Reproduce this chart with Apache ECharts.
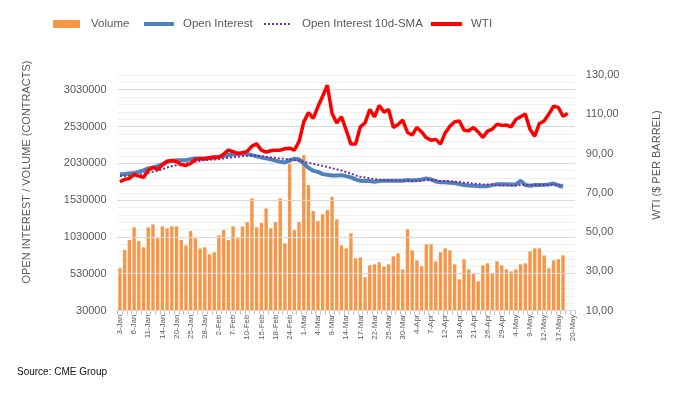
<!DOCTYPE html>
<html>
<head>
<meta charset="utf-8">
<script src="https://cdn.jsdelivr.net/npm/echarts@6/dist/echarts.min.js"></script>
<style>
html,body{margin:0;padding:0;background:#fff;}
#chart{width:674px;height:394px;}
</style>
</head>
<body>
<div id="chart"></div>
<script>
const categories = [
'3-Jan','4-Jan','5-Jan','6-Jan','7-Jan','10-Jan','11-Jan','12-Jan','13-Jan','14-Jan',
'18-Jan','19-Jan','20-Jan','21-Jan','24-Jan','25-Jan','26-Jan','27-Jan','28-Jan','31-Jan',
'1-Feb','2-Feb','3-Feb','4-Feb','7-Feb','8-Feb','9-Feb','10-Feb','11-Feb','14-Feb',
'15-Feb','16-Feb','17-Feb','18-Feb','22-Feb','23-Feb','24-Feb','25-Feb','28-Feb',
'1-Mar','2-Mar','3-Mar','4-Mar','7-Mar','8-Mar','9-Mar','10-Mar','11-Mar','14-Mar',
'15-Mar','16-Mar','17-Mar','18-Mar','21-Mar','22-Mar','23-Mar','24-Mar','25-Mar','28-Mar',
'29-Mar','30-Mar','31-Mar',
'1-Apr','4-Apr','5-Apr','6-Apr','7-Apr','8-Apr','11-Apr','12-Apr','13-Apr','14-Apr',
'18-Apr','19-Apr','20-Apr','21-Apr','22-Apr','25-Apr','26-Apr','27-Apr','28-Apr','29-Apr',
'2-May','3-May','4-May','5-May','6-May','9-May','10-May','11-May','12-May','13-May',
'16-May','17-May','18-May','19-May','20-May'
];

const volume = [
603000,851000,987000,1159000,973000,888000,1159000,1200000,1010000,1173000,
1146000,1173000,1173000,987000,915000,1109000,1010000,874000,888000,793000,
820000,1051000,1123000,987000,1173000,1010000,1173000,1231000,1553000,1159000,
1218000,1417000,1146000,1231000,1553000,942000,2060000,1123000,1231000,2141000,
1734000,1381000,1245000,1336000,1394000,1575000,1268000,915000,874000,1078000,
739000,752000,481000,644000,657000,684000,625000,657000,766000,807000,
589000,1132000,847000,711000,630000,929000,929000,698000,820000,874000,
847000,657000,454000,725000,589000,535000,426000,644000,671000,535000,
698000,644000,589000,562000,589000,657000,671000,834000,874000,874000,
779000,603000,711000,725000,779000,null,null
];

const openInterest = [
1883000,1886000,1893000,1900000,1914000,1935000,1960000,1975000,1992000,2020000,
2050000,2062000,2073000,2073000,2073000,2085000,2096000,2096000,2096000,2102000,
2110000,2118000,2127000,2142000,2154000,2160000,2164000,2158000,2141000,2125000,
2110000,2097000,2083000,2066000,2050000,2042000,2073000,2091000,2083000,2028000,
1968000,1928000,1914000,1883000,1874000,1865000,1865000,1869000,1856000,1838000,
1811000,1792000,1788000,1788000,1779000,1788000,1792000,1792000,1792000,1792000,
1792000,1802000,1797000,1802000,1811000,1825000,1811000,1784000,1774000,1774000,
1765000,1761000,1747000,1734000,1729000,1725000,1720000,1720000,1720000,1734000,
1747000,1747000,1747000,1743000,1743000,1792000,1734000,1725000,1734000,1734000,
1738000,1743000,1756000,1729000,1711000,null,null
];

const openInterestSMA = [
1856000,1858000,1860000,1866000,1874000,1887000,1901000,1914000,1928000,1950000,
1974000,1990000,2005000,2016000,2028000,2039000,2050000,2062000,2073000,2078000,
2083000,2090000,2096000,2105000,2114000,2120000,2127000,2132000,2137000,2132000,
2127000,2118000,2110000,2103000,2096000,2090000,2083000,2073000,2064000,2050000,
2037000,2023000,2009000,1995000,1982000,1962000,1948000,1932000,1910000,1893000,
1865000,1847000,1838000,1825000,1815000,1806000,1802000,1797000,1797000,1797000,
1797000,1792000,1792000,1792000,1792000,1802000,1802000,1802000,1788000,1788000,
1788000,1779000,1779000,1765000,1765000,1752000,1752000,1743000,1743000,1743000,
1729000,1729000,1729000,1729000,1729000,1734000,1734000,1734000,1734000,1734000,
1738000,1738000,1738000,1738000,1738000,null,null
];

const wti = [
75.6,76.8,77.3,79.3,78.5,77.8,81.5,82.9,81.9,84.1,
86.1,86.5,85.8,84.4,83.9,84.9,87.0,87.3,87.3,87.8,
88.2,88.0,89.7,91.7,90.9,90.0,90.4,91.1,93.8,94.9,
91.7,90.7,91.4,91.7,91.7,92.4,92.7,91.7,96.0,106.1,
110.9,107.9,113.8,119.2,124.8,110.4,105.6,108.7,101.9,94.8,
94.8,103.6,105.6,112.4,108.7,114.5,111.1,112.4,103.3,104.8,
107.0,100.7,99.4,103.3,101.0,98.0,96.8,97.2,94.8,100.5,
103.9,106.1,106.6,101.9,101.6,103.3,101.0,98.2,101.4,102.4,
105.0,104.3,104.5,103.6,107.3,108.7,110.1,102.3,98.8,105.3,
106.6,110.1,114.1,113.5,109.0,110.4,null
];

const leftTicks = { min: 30000, max: 3230000, interval: 500000, minor: 100000 };
const rightTicks = { min: 10, max: 130, interval: 20 };

const TXT = '#595959';
const SANS = "'Liberation Sans', Arial, sans-serif";

const chart = echarts.init(document.getElementById('chart'), null, { renderer: 'canvas' });

function legendItem(name, left, width, padLeft, icon, lineStyle) {
  const d = { name: name };
  if (icon) d.icon = icon;
  const l = {
    data: [d], left: left, top: 18, padding: 0, itemWidth: width, itemHeight: 8,
    selectedMode: false,
    itemStyle: icon ? {} : { opacity: 0 },
    textStyle: { color: TXT, fontSize: 11.5, fontFamily: SANS, padding: [0, 0, 0, padLeft] }
  };
  if (lineStyle) l.lineStyle = lineStyle;
  return l;
}

const majorColors = [];
for (let v = leftTicks.min; v <= leftTicks.max; v += leftTicks.interval) majorColors.push('#d9d9d9');
majorColors.push('rgba(0,0,0,0)');

const option = {
  animation: false,
  backgroundColor: '#ffffff',
  legend: [
    legendItem('Volume', 53, 27, 6, 'rect'),
    legendItem('Open Interest', 142, 30, 4, null, { width: 4, color: '#4F81BD' }),
    legendItem('Open Interest 10d-SMA', 263, 27, 6, null, { width: 2, color: '#7030A0', type: 'dotted' }),
    legendItem('WTI', 429, 31, 4, null, { width: 4, color: '#FF0000' })
  ],
  grid: { left: 117.6, right: 99.2, top: 75, bottom: 83.5, containLabel: false },
  xAxis: {
    type: 'category',
    data: categories,
    boundaryGap: true,
    axisLine: { lineStyle: { color: '#bfbfbf', width: 1 } },
    axisTick: { show: true, interval: 0, length: 4, lineStyle: { color: '#bfbfbf' } },
    axisLabel: { interval: 2, rotate: 90, fontSize: 8, color: TXT, fontFamily: SANS, margin: 4 },
    splitLine: { show: false }
  },
  yAxis: [
    {
      type: 'value', position: 'left', z: 3,
      min: leftTicks.min, max: leftTicks.max, interval: leftTicks.interval,
      axisLine: { show: false }, axisTick: { show: false },
      axisLabel: { color: TXT, fontSize: 11, fontFamily: SANS, margin: 11, showMaxLabel: false,
        formatter: v => String(v) },
      splitLine: { show: true, lineStyle: { color: majorColors, width: 1 } }
    },
    {
      type: 'value', position: 'right',
      min: rightTicks.min, max: rightTicks.max, interval: rightTicks.interval,
      axisLine: { show: false }, axisTick: { show: false },
      axisLabel: { color: TXT, fontSize: 11, fontFamily: SANS, margin: 11,
        formatter: v => v.toFixed(2).replace('.', ',') },
      splitLine: { show: false }
    },
    {
      type: 'value', position: 'left', z: 1,
      min: leftTicks.min, max: leftTicks.max, interval: leftTicks.minor,
      axisLine: { show: false }, axisTick: { show: false }, axisLabel: { show: false },
      splitLine: { show: true, lineStyle: { color: '#efefef', width: 1 } }
    }
  ],
  graphic: [
    { type: 'text', x: 27, y: 172, rotation: Math.PI / 2,
      style: { text: 'OPEN INTEREST / VOLUME (CONTRACTS)', fill: TXT, font: "11px 'Liberation Sans', Arial",
        align: 'center', verticalAlign: 'middle' } },
    { type: 'text', x: 657, y: 165, rotation: Math.PI / 2,
      style: { text: 'WTI ($ PER BARREL)', fill: TXT, font: "11px 'Liberation Sans', Arial",
        align: 'center', verticalAlign: 'middle' } },
    { type: 'text', x: 17, y: 372,
      style: { text: 'Source: CME Group', fill: '#111111', font: "10px 'Liberation Sans', Arial",
        align: 'left', verticalAlign: 'middle' } }
  ],
  series: [
    { name: 'Volume', type: 'bar', yAxisIndex: 0, data: volume, barCategoryGap: '28%',
      itemStyle: { color: '#F79646' } },
    { name: 'Open Interest', type: 'line', yAxisIndex: 0, data: openInterest, symbol: 'none', showSymbol: false,
      lineStyle: { color: '#4F81BD', width: 4 }, itemStyle: { color: '#4F81BD' } },
    { name: 'Open Interest 10d-SMA', type: 'line', yAxisIndex: 0, data: openInterestSMA, symbol: 'none', showSymbol: false,
      lineStyle: { color: '#7030A0', width: 2, type: 'dotted' }, itemStyle: { color: '#7030A0' } },
    { name: 'WTI', type: 'line', yAxisIndex: 1, data: wti, symbol: 'none', showSymbol: false,
      lineStyle: { color: '#FF0000', width: 3.5 }, itemStyle: { color: '#FF0000' } }
  ]
};
chart.setOption(option);
</script>
</body>
</html>
